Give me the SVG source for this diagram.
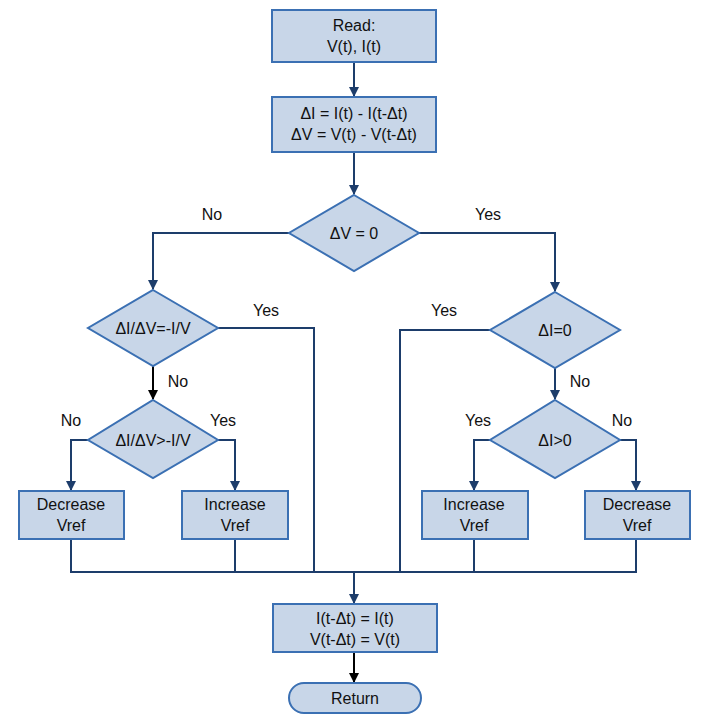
<svg xmlns="http://www.w3.org/2000/svg" width="708" height="718" viewBox="0 0 708 718">
<style>
.n{fill:#c8d6e8;stroke:#3b70b3;stroke-width:2}
.t{font-family:"Liberation Sans",Arial,sans-serif;font-size:16px;fill:#111;text-anchor:middle}
.c{fill:none;stroke:#1d3d6b;stroke-width:2}
.k{fill:none;stroke:#000;stroke-width:2}
</style>
<defs>
<marker id="a" markerWidth="10" markerHeight="10" refX="9" refY="5" orient="auto" markerUnits="userSpaceOnUse"><path d="M0,0L10,5L0,10z" fill="#1d3d6b"/></marker>
<marker id="b" markerWidth="10" markerHeight="10" refX="9" refY="5" orient="auto" markerUnits="userSpaceOnUse"><path d="M0,0L10,5L0,10z" fill="#000"/></marker>
</defs>
<rect width="708" height="718" fill="#fff"/>
<g id="connectors">
<path class="c" d="M354,62V96" marker-end="url(#a)"/>
<path class="c" d="M354,152V194" marker-end="url(#a)"/>
<path class="c" d="M289,233H153V289" marker-end="url(#a)"/>
<path class="c" d="M419,233H555V291" marker-end="url(#a)"/>
<path class="k" d="M153,366V399" marker-end="url(#b)"/>
<path class="c" d="M555,368V399" marker-end="url(#a)"/>
<path class="c" d="M88,440H71V490" marker-end="url(#a)"/>
<path class="c" d="M218,440H235V490" marker-end="url(#a)"/>
<path class="c" d="M490,440H474V490" marker-end="url(#a)"/>
<path class="c" d="M620,440H636V490" marker-end="url(#a)"/>
<path class="c" d="M218,328H314V572"/>
<path class="c" d="M490,330H400V572"/>
<path class="c" d="M71,539V572H636V539M235,539V572M474,539V572"/>
<path class="c" d="M354,572V603" marker-end="url(#a)"/>
<path class="k" d="M354,652V682" marker-end="url(#b)"/>
</g>
<g class="t">
<text x="212" y="220">No</text><text x="488" y="220">Yes</text>
<text x="266" y="316">Yes</text><text x="444" y="316">Yes</text>
<text x="178" y="387">No</text><text x="580" y="387">No</text>
<text x="71" y="426">No</text><text x="223" y="426">Yes</text>
<text x="478" y="426">Yes</text><text x="622" y="426">No</text>
</g>
<g id="read"><rect class="n" x="272" y="10" width="164" height="52"/><text class="t" x="354" y="31">Read:</text><text class="t" x="354" y="52">V(t), I(t)</text></g>
<g id="delta"><rect class="n" x="272" y="97" width="164" height="55"/><text class="t" x="354" y="119">ΔI = I(t) - I(t-Δt)</text><text class="t" x="354" y="140">ΔV = V(t) - V(t-Δt)</text></g>
<g id="d1"><path class="n" d="M354,195L419,233L354,271L289,233z"/><text class="t" x="354" y="239">ΔV = 0</text></g>
<g id="d2"><path class="n" d="M153,290L218,328L153,366L88,328z"/><text class="t" x="153" y="334">ΔI/ΔV=-I/V</text></g>
<g id="d3"><path class="n" d="M153,400L218,440L153,478L88,440z"/><text class="t" x="153" y="446">ΔI/ΔV&gt;-I/V</text></g>
<g id="d4"><path class="n" d="M555,292L620,330L555,368L490,330z"/><text class="t" x="555" y="336">ΔI=0</text></g>
<g id="d5"><path class="n" d="M555,400L620,440L555,478L490,440z"/><text class="t" x="555" y="446">ΔI&gt;0</text></g>
<g id="dec1"><rect class="n" x="19" y="491" width="105" height="48"/><text class="t" x="71" y="510">Decrease</text><text class="t" x="71" y="531">Vref</text></g>
<g id="inc1"><rect class="n" x="182" y="491" width="106" height="48"/><text class="t" x="235" y="510">Increase</text><text class="t" x="235" y="531">Vref</text></g>
<g id="inc2"><rect class="n" x="422" y="491" width="106" height="48"/><text class="t" x="474" y="510">Increase</text><text class="t" x="474" y="531">Vref</text></g>
<g id="dec2"><rect class="n" x="585" y="491" width="105" height="48"/><text class="t" x="637" y="510">Decrease</text><text class="t" x="637" y="531">Vref</text></g>
<g id="update"><rect class="n" x="273" y="604" width="164" height="48"/><text class="t" x="355" y="624">I(t-Δt) = I(t)</text><text class="t" x="355" y="645">V(t-Δt) = V(t)</text></g>
<g id="ret"><rect class="n" x="289" y="683" width="132" height="30" rx="15"/><text class="t" x="355" y="704">Return</text></g>
</svg>
